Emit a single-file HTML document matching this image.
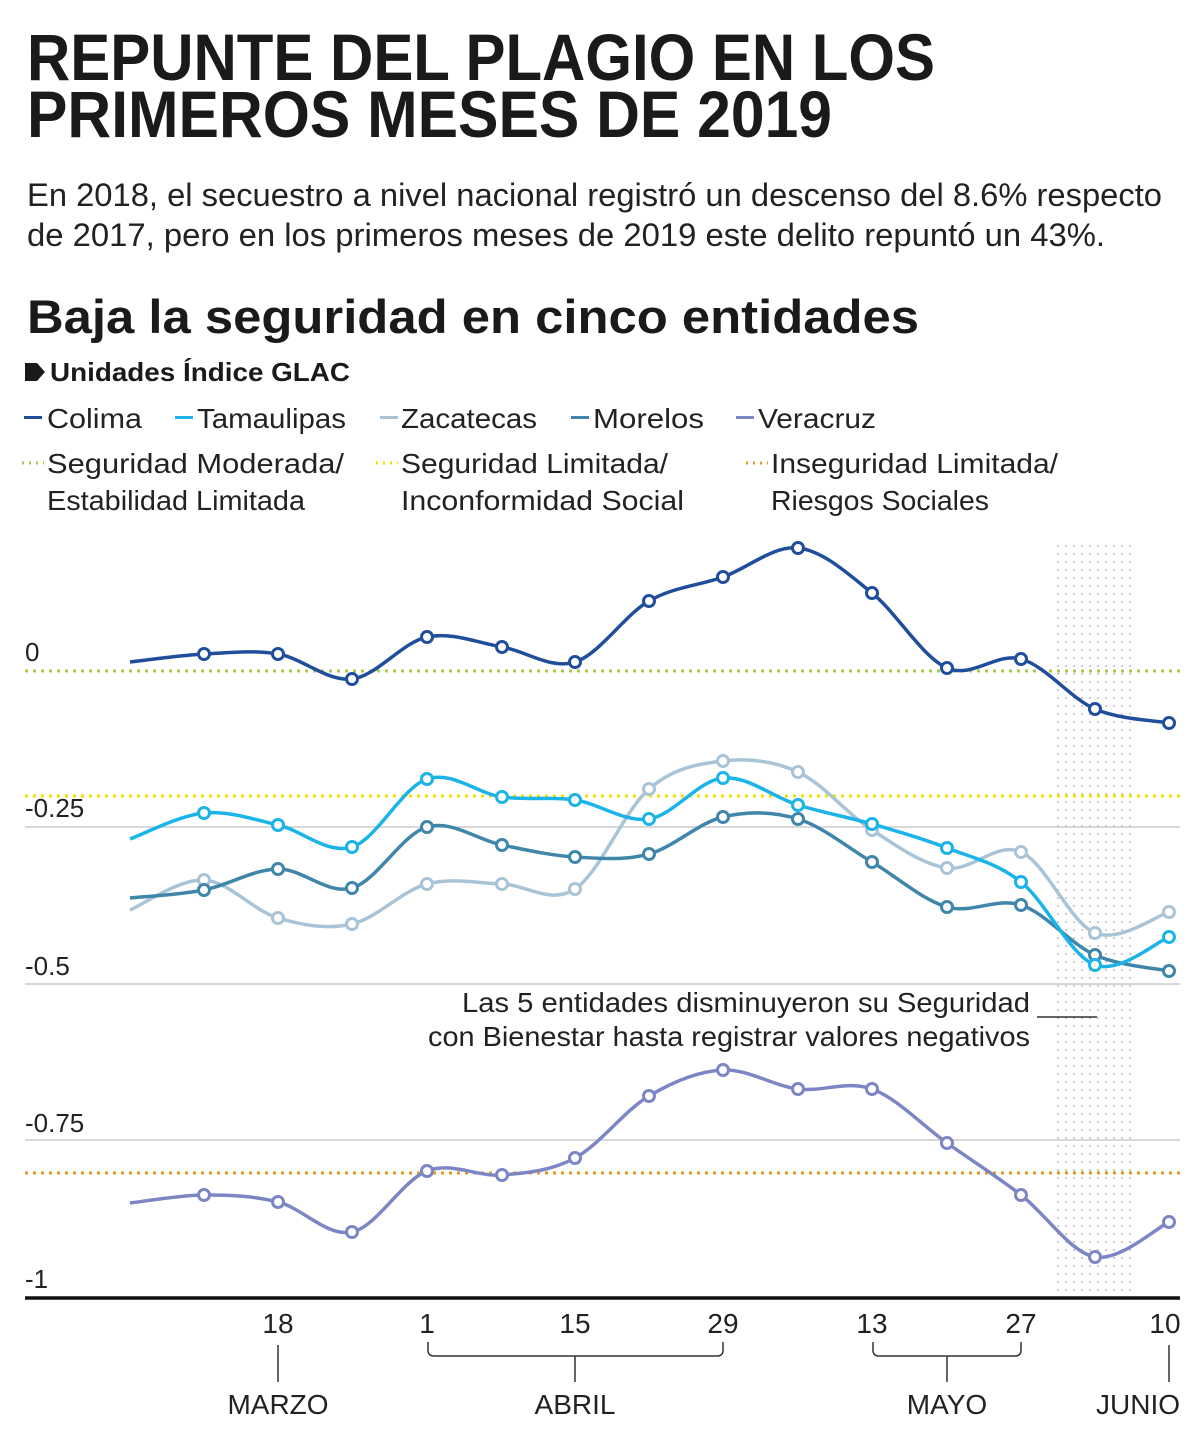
<!DOCTYPE html>
<html><head><meta charset="utf-8"><style>
html,body{margin:0;padding:0;background:#fff;}
svg{display:block;font-family:"Liberation Sans",sans-serif;}
.l{font-weight:300;fill:#222;}
</style></head><body>
<svg id="s" width="1200" height="1430" viewBox="0 0 1200 1430" xmlns="http://www.w3.org/2000/svg">
<defs>
<pattern id="dots" width="8" height="8" patternUnits="userSpaceOnUse"><circle cx="2" cy="2" r="1" fill="#bbb"/></pattern>
</defs>
<text x="27" y="80" font-size="66" font-weight="bold" fill="#1a1a1a" textLength="908" lengthAdjust="spacingAndGlyphs">REPUNTE DEL PLAGIO EN LOS</text>
<text x="27" y="137" font-size="66" font-weight="bold" fill="#1a1a1a" textLength="805" lengthAdjust="spacingAndGlyphs">PRIMEROS MESES DE 2019</text>
<text x="27" y="206" font-size="32" class="l" textLength="1135" lengthAdjust="spacingAndGlyphs">En 2018, el secuestro a nivel nacional registró un descenso del 8.6% respecto</text>
<text x="27" y="246" font-size="32" class="l" textLength="1078" lengthAdjust="spacingAndGlyphs">de 2017, pero en los primeros meses de 2019 este delito repuntó un 43%.</text>
<text x="27" y="333" font-size="47" font-weight="bold" fill="#1a1a1a" textLength="892" lengthAdjust="spacingAndGlyphs">Baja la seguridad en cinco entidades</text>
<path d="M25 363 h12 l8 9 l-8 9 h-12z" fill="#1a1a1a"/>
<text x="50" y="381" font-size="26" font-weight="bold" fill="#1a1a1a" textLength="300" lengthAdjust="spacingAndGlyphs">Unidades Índice GLAC</text>
<g font-size="28" class="l">
<rect x="24" y="416" width="18" height="3" fill="#1f4e9c"/><text x="47" y="428" textLength="95" lengthAdjust="spacingAndGlyphs">Colima</text>
<rect x="175" y="416" width="18" height="3" fill="#1ab4e8"/><text x="197" y="428" textLength="149" lengthAdjust="spacingAndGlyphs">Tamaulipas</text>
<rect x="380" y="416" width="18" height="3" fill="#a9c4d6"/><text x="401" y="428" textLength="136" lengthAdjust="spacingAndGlyphs">Zacatecas</text>
<rect x="571" y="416" width="18" height="3" fill="#3f86aa"/><text x="593" y="428" textLength="111" lengthAdjust="spacingAndGlyphs">Morelos</text>
<rect x="736" y="416" width="18" height="3" fill="#7d86c4"/><text x="758" y="428" textLength="118" lengthAdjust="spacingAndGlyphs">Veracruz</text>
<line x1="22" y1="463" x2="44" y2="463" stroke="#a8c94a" stroke-width="3" stroke-dasharray="2,5"/><text x="47" y="473" textLength="297" lengthAdjust="spacingAndGlyphs">Seguridad Moderada/</text>
<text x="47" y="510" textLength="258" lengthAdjust="spacingAndGlyphs">Estabilidad Limitada</text>
<line x1="376" y1="463" x2="398" y2="463" stroke="#f0e000" stroke-width="3" stroke-dasharray="2,5"/><text x="401" y="473" textLength="267" lengthAdjust="spacingAndGlyphs">Seguridad Limitada/</text>
<text x="401" y="510" textLength="283" lengthAdjust="spacingAndGlyphs">Inconformidad Social</text>
<line x1="746" y1="463" x2="768" y2="463" stroke="#e8941e" stroke-width="3" stroke-dasharray="2,5"/><text x="771" y="473" textLength="287" lengthAdjust="spacingAndGlyphs">Inseguridad Limitada/</text>
<text x="771" y="510" textLength="218" lengthAdjust="spacingAndGlyphs">Riesgos Sociales</text>
</g>
<rect x="1055" y="545" width="82" height="752" fill="url(#dots)"/>
<g stroke="#ccc" stroke-width="1.5"><line x1="25" y1="827" x2="1180" y2="827"/><line x1="25" y1="984" x2="1180" y2="984"/><line x1="25" y1="1140" x2="1180" y2="1140"/></g>
<line x1="25" y1="671" x2="1180" y2="671" stroke="#a8c94a" stroke-width="3" stroke-dasharray="3,5"/>
<line x1="25" y1="796" x2="1180" y2="796" stroke="#f0e000" stroke-width="3" stroke-dasharray="3,5"/>
<line x1="25" y1="1173" x2="1180" y2="1173" stroke="#e8941e" stroke-width="3" stroke-dasharray="3,5"/>
<g font-size="26" class="l">
<text x="25" y="661">0</text><text x="25" y="817">-0.25</text><text x="25" y="975">-0.5</text><text x="25" y="1132">-0.75</text><text x="25" y="1288">-1</text>
</g>
<g font-size="28" class="l">
<text x="462" y="1012" textLength="568" lengthAdjust="spacingAndGlyphs">Las 5 entidades disminuyeron su Seguridad</text>
<text x="428" y="1046" textLength="602" lengthAdjust="spacingAndGlyphs">con Bienestar hasta registrar valores negativos</text>
</g>
<line x1="1037" y1="1017" x2="1097" y2="1017" stroke="#333" stroke-width="1.5"/>
<g id="series"></g>
<line x1="25" y1="1298" x2="1180" y2="1298" stroke="#111" stroke-width="3.5"/>
<g font-size="28" class="l" text-anchor="middle">
<text x="278" y="1333">18</text><text x="427" y="1333">1</text><text x="575" y="1333">15</text><text x="723" y="1333">29</text><text x="872" y="1333">13</text><text x="1021" y="1333">27</text><text x="1165" y="1333">10</text>
<text x="278" y="1414">MARZO</text><text x="575" y="1414">ABRIL</text><text x="947" y="1414">MAYO</text><text x="1138" y="1414">JUNIO</text>
</g>
<g stroke="#333" stroke-width="1.5" fill="none">
<line x1="278" y1="1345" x2="278" y2="1382"/>
<path d="M428 1342 v8 q0 6 6 6 h283 q6 0 6 -6 v-8"/><line x1="575" y1="1356" x2="575" y2="1382"/>
<path d="M873 1342 v8 q0 6 6 6 h136 q6 0 6 -6 v-8"/><line x1="947" y1="1356" x2="947" y2="1382"/>
<line x1="1169" y1="1345" x2="1169" y2="1382"/>
</g>
</svg>
<script>
var X=[130,204,278,352,427,502,575,649,723,798,872,947,1021,1095,1169];
var S=[
["#a9c4d6",[910,880,918,924,884,884,889,789,761,772,830,868,852,933,912]],
["#3f86aa",[898,890,869,888,827,845,857,854,817,819,862,907,905,955,971]],
["#1ab4e8",[839,813,825,847,779,797,800,819,778,805,824,848,882,965,937]],
["#1f4e9c",[662,654,654,679,637,647,662,601,577,548,593,668,659,709,723]],
["#7d86c4",[1203,1195,1202,1232,1171,1175,1158,1096,1070,1089,1089,1143,1195,1257,1222]]];
var g=document.getElementById("series"),h="";
S.forEach(function(s){var c=s[0],Y=s[1],n=X.length,d="M"+X[0]+" "+Y[0];
for(var i=0;i<n-1;i++){var p0=i?i-1:0,p3=i+2<n?i+2:n-1;
var c1x=X[i]+(X[i+1]-X[p0])/6,c1y=Y[i]+(Y[i+1]-Y[p0])/6,c2x=X[i+1]-(X[p3]-X[i])/6,c2y=Y[i+1]-(Y[p3]-Y[i])/6;
d+=" C"+c1x+" "+c1y+" "+c2x+" "+c2y+" "+X[i+1]+" "+Y[i+1];}
h+='<path d="'+d+'" fill="none" stroke="'+c+'" stroke-width="3.5"/>';
for(var i=1;i<n;i++)h+='<circle cx="'+X[i]+'" cy="'+Y[i]+'" r="5.5" fill="#fff" stroke="'+c+'" stroke-width="3"/>';});
g.innerHTML=h;
</script>
</body></html>
